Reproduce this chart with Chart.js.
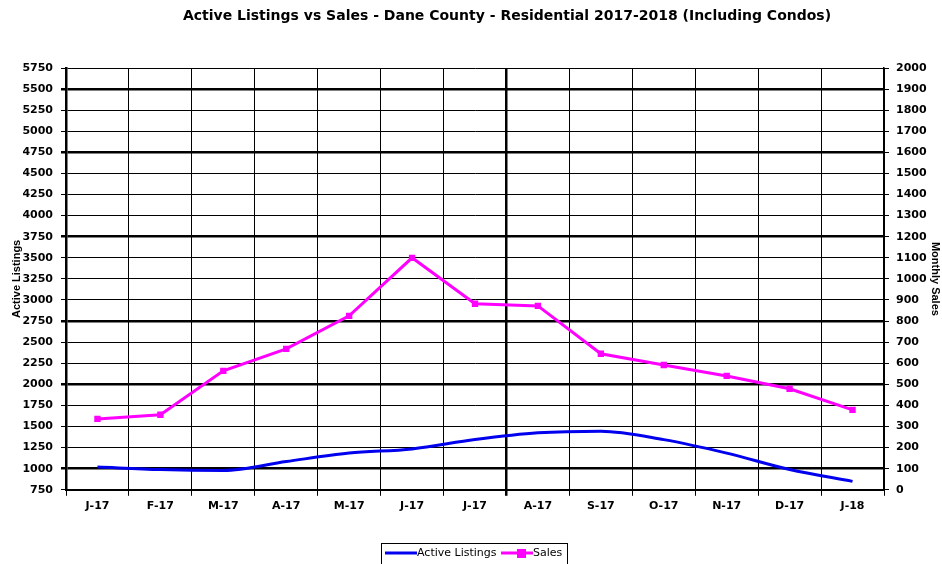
<!DOCTYPE html>
<html>
<head>
<meta charset="utf-8">
<script src="https://cdn.jsdelivr.net/npm/chart.js@4"></script>
<style>
  html, body { margin: 0; padding: 0; background: #fff; }
  #wrap { width: 942px; height: 564px; }
</style>
</head>
<body>
<div id="wrap"><canvas id="chart" width="942" height="564"></canvas></div>
<script>
const months = ["J-17", "F-17", "M-17", "A-17", "M-17", "J-17", "J-17", "A-17", "S-17", "O-17", "N-17", "D-17", "J-18"];
const activeListings = [1020, 990, 980, 1085, 1185, 1235, 1345, 1425, 1445, 1345, 1185, 990, 850];
const monthlySales = [336, 356, 564, 668, 825, 1100, 882, 872, 645, 592, 540, 479, 379];
const thickLeft = [5500, 4750, 3750, 2750, 2000, 1000];
const chartTitle = "Active Listings vs Sales - Dane County - Residential 2017-2018 (Including Condos)";

const ARIAL = "'Liberation Sans', Arial, sans-serif";
const WIDE = "'DejaVu Sans', Verdana, sans-serif";

// title sits right of centre in the original, so it is drawn by hand
const offsetTitle = {
    id: "offsetTitle",
    afterDraw(chart) {
        const ctx = chart.ctx;
        ctx.save();
        ctx.fillStyle = "#000";
        ctx.font = "bold 14px " + WIDE;
        ctx.textAlign = "center";
        ctx.textBaseline = "middle";
        ctx.fillText(chartTitle, 507, 16);
        ctx.restore();
    }
};

// legend drawn by hand so the sales sample can carry its square marker
const boxLegend = {
    id: "boxLegend",
    afterDraw(chart) {
        const ctx = chart.ctx;
        ctx.save();
        ctx.strokeStyle = "#000";
        ctx.lineWidth = 1;
        ctx.strokeRect(381.5, 543.5, 186, 30);
        ctx.lineWidth = 3;
        ctx.strokeStyle = "#0000ee";
        ctx.beginPath(); ctx.moveTo(385, 553); ctx.lineTo(417, 553); ctx.stroke();
        ctx.strokeStyle = "#ff00ff";
        ctx.beginPath(); ctx.moveTo(501, 553); ctx.lineTo(533, 553); ctx.stroke();
        ctx.fillStyle = "#ff00ff";
        ctx.fillRect(517, 549, 9, 9);
        ctx.fillStyle = "#000";
        ctx.font = "11px " + WIDE;
        ctx.textBaseline = "middle";
        ctx.fillText("Active Listings", 417, 553);
        ctx.fillText("Sales", 533, 553);
        ctx.restore();
    }
};

const ctx = document.getElementById("chart").getContext("2d");
new Chart(ctx, {
    type: "line",
    data: {
        labels: months,
        datasets: [{
            label: "Active Listings",
            data: activeListings,
            yAxisID: "y",
            borderColor: "#0000ee",
            borderWidth: 3,
            tension: 0.4,
            cubicInterpolationMode: "monotone",
            pointRadius: 0,
        }, {
            label: "Sales",
            data: monthlySales,
            yAxisID: "y1",
            borderColor: "#ff00ff",
            backgroundColor: "#ff00ff",
            borderWidth: 3,
            tension: 0,
            pointStyle: "rect",
            pointRadius: 4.5,
            pointBorderWidth: 0,
        }],
    },
    options: {
        responsive: false,
        animation: false,
        layout: { padding: { top: 68, left: 10, right: 0, bottom: 47 } },
        plugins: {
            legend: { display: false },
            tooltip: { enabled: false },
            title: { display: false },
        },
        scales: {
            x: {
                offset: true,
                grid: {
                    offset: true,
                    color: "#000",
                    lineWidth: (c) => (c.index === 7 ? 2.5 : 1),
                    tickLength: 6,
                },
                border: { color: "#000", width: 2 },
                ticks: {
                    color: "#000",
                    font: { family: WIDE, size: 11, weight: "bold" },
                    padding: 4,
                    autoSkip: false,
                    maxRotation: 0,
                },
            },
            y: {
                position: "left",
                min: 750,
                max: 5750,
                afterFit: (s) => { s.width = 56; },
                ticks: {
                    stepSize: 250,
                    color: "#000",
                    font: { family: WIDE, size: 11, weight: "bold" },
                    padding: 8,
                    callback: (v) => String(v),
                },
                grid: {
                    color: "#000",
                    lineWidth: (c) => (c.tick && thickLeft.includes(c.tick.value) ? 2.5 : 1),
                    tickLength: 5,
                },
                border: { color: "#000", width: 2.5 },
                title: {
                    display: true,
                    text: "Active Listings",
                    color: "#000",
                    font: { family: ARIAL, size: 11, weight: "bold" },
                    padding: { top: 0, bottom: 0 },
                },
            },
            y1: {
                position: "right",
                min: 0,
                max: 2000,
                afterFit: (s) => { s.width = 58; },
                ticks: {
                    stepSize: 100,
                    color: "#000",
                    font: { family: WIDE, size: 11, weight: "bold" },
                    padding: 7,
                    callback: (v) => String(v),
                },
                grid: { drawOnChartArea: false, color: "#000", tickLength: 5 },
                border: { color: "#000", width: 1.5 },
                title: {
                    display: true,
                    text: "Monthly Sales",
                    color: "#000",
                    font: { family: ARIAL, size: 11, weight: "bold" },
                    padding: { top: 0, bottom: 0 },
                },
            },
        },
    },
    plugins: [offsetTitle, boxLegend],
});
</script>
</body>
</html>
